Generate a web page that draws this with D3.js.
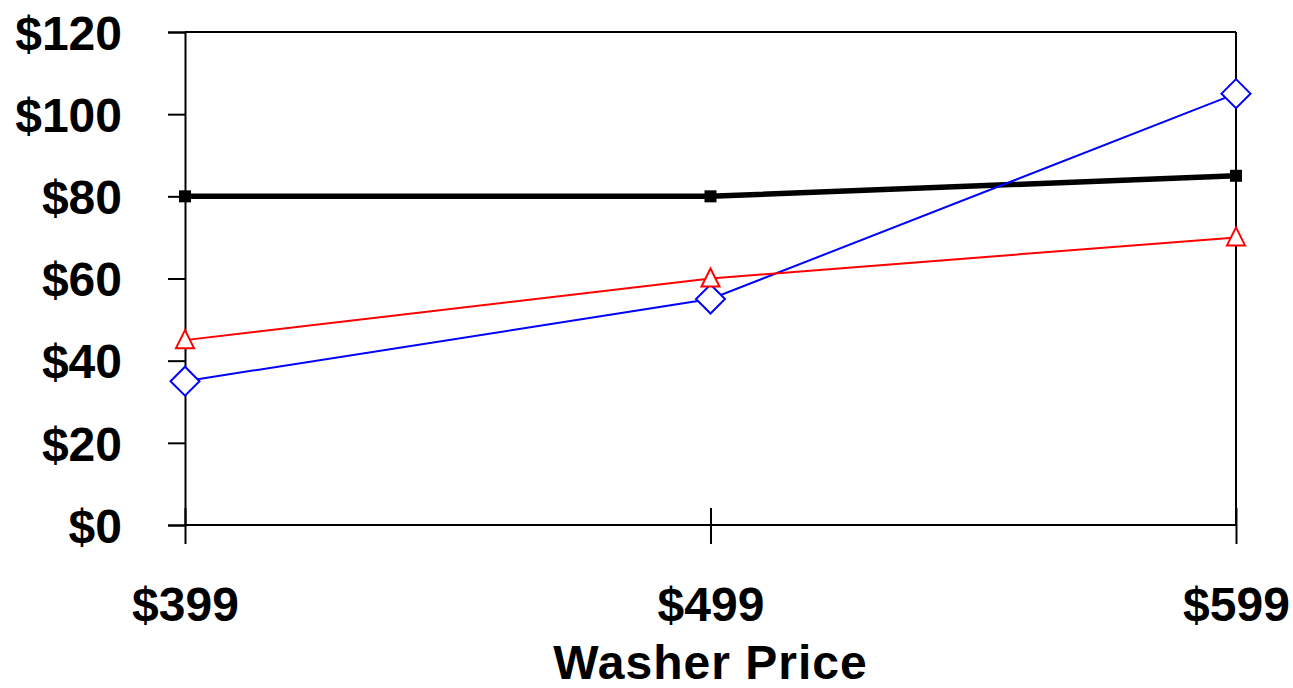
<!DOCTYPE html>
<html>
<head>
<meta charset="utf-8">
<script src="https://cdn.jsdelivr.net/npm/d3@7"></script>
<style>
html,body{margin:0;padding:0;background:#fff;}
svg{display:block;}
text{font-family:"Liberation Sans",Arial,sans-serif;font-weight:bold;fill:#000;}
</style>
</head>
<body>
<svg id="chart" width="1293" height="688"></svg>
<script>
const categories = ["$399", "$499", "$599"];
const yTicks = [0, 20, 40, 60, 80, 100, 120];
const blackSeries = [80, 80, 85];
const redSeries = [45, 60, 70];
const blueSeries = [35, 55, 105];
const xTitle = "Washer Price";

(function () {
const svg = d3.select("#chart");
const pLeft = 185, pRight = 1236, pTop = 32, pBottom = 525;
const fs = 48;

const x = d3.scalePoint().domain(categories).range([pLeft, pRight]);
const y = d3.scaleLinear().domain([0, 120]).range([pBottom, pTop]);

svg.append("line").attr("x1", pLeft).attr("x2", pRight).attr("y1", pTop).attr("y2", pTop)
  .attr("stroke", "#000").attr("stroke-width", 2);
svg.append("line").attr("x1", pRight).attr("x2", pRight).attr("y1", pTop).attr("y2", pBottom)
  .attr("stroke", "#000").attr("stroke-width", 2);

const yAxis = svg.append("g").attr("transform", `translate(${pLeft},0)`)
  .call(d3.axisLeft(y).tickValues(yTicks).tickFormat(d => "$" + d).tickSize(17).tickPadding(46));
yAxis.select(".domain").attr("stroke", "#000").attr("stroke-width", 2);
yAxis.selectAll(".tick line").attr("stroke", "#000").attr("stroke-width", 2);
yAxis.selectAll(".tick text").attr("font-size", fs).attr("font-family", "Liberation Sans, Arial, sans-serif")
  .attr("font-weight", "bold").attr("fill", "#000").attr("dy", "0.36em");

const xAxis = svg.append("g").attr("transform", `translate(0,${pBottom})`)
  .call(d3.axisBottom(x).tickSize(19).tickPadding(43));
xAxis.select(".domain").attr("d", `M${pLeft},0H${pRight}`).attr("stroke", "#000").attr("stroke-width", 2);
xAxis.selectAll(".tick line").attr("y1", -17).attr("stroke", "#000").attr("stroke-width", 2);
xAxis.selectAll(".tick text").attr("font-size", fs).attr("font-family", "Liberation Sans, Arial, sans-serif")
  .attr("font-weight", "bold").attr("fill", "#000");

svg.append("text").attr("x", (pLeft + pRight) / 2).attr("y", 679).attr("text-anchor", "middle")
  .attr("font-size", fs).attr("letter-spacing", 1).text(xTitle);

const line = d3.line().x((d, i) => x(categories[i])).y(d => y(d));

svg.append("path").datum(blackSeries).attr("d", line).attr("fill", "none")
  .attr("stroke", "#000").attr("stroke-width", 5.5);
svg.append("path").datum(blueSeries).attr("d", line).attr("fill", "none")
  .attr("stroke", "#0000ff").attr("stroke-width", 2);
svg.append("path").datum(redSeries).attr("d", line).attr("fill", "none")
  .attr("stroke", "#ff0000").attr("stroke-width", 2);

svg.selectAll(".sq").data(blackSeries).enter().append("rect")
  .attr("x", (d, i) => x(categories[i]) - 6).attr("y", d => y(d) - 6)
  .attr("width", 12).attr("height", 12).attr("fill", "#000");

svg.selectAll(".dm").data(blueSeries).enter().append("path")
  .attr("d", (d, i) => {
    const cx = x(categories[i]), cy = y(d), r = 14.5;
    return `M${cx},${cy - r}L${cx + r},${cy}L${cx},${cy + r}L${cx - r},${cy}Z`;
  })
  .attr("fill", "#fff").attr("stroke", "#0000ff").attr("stroke-width", 2);

svg.selectAll(".tr").data(redSeries).enter().append("path")
  .attr("d", (d, i) => {
    const cx = x(categories[i]), cy = y(d);
    return `M${cx},${cy - 10}L${cx + 9},${cy + 8}L${cx - 9},${cy + 8}Z`;
  })
  .attr("fill", "#fff").attr("stroke", "#ff0000").attr("stroke-width", 2);
})();
</script>
</body>
</html>
